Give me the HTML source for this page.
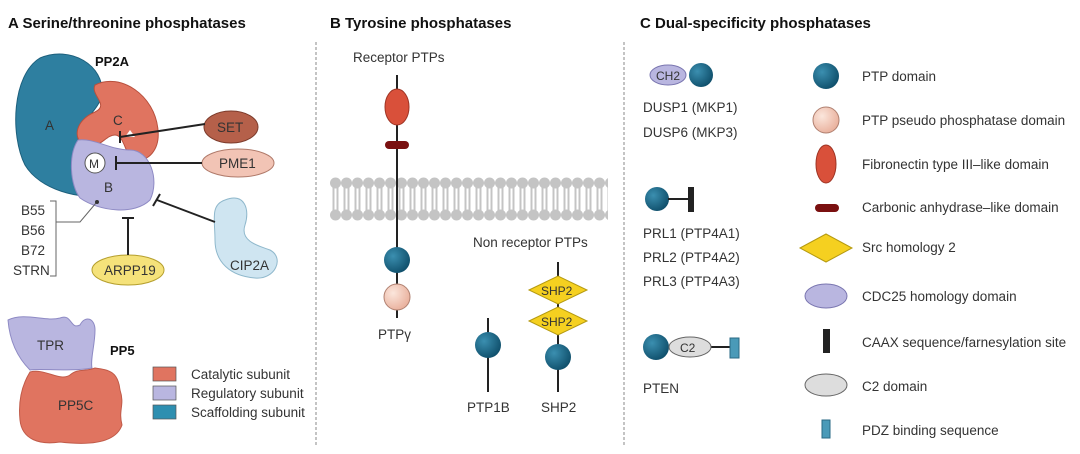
<!DOCTYPE html>
<html><head><meta charset="utf-8"><style>
html,body{margin:0;padding:0;background:#fff;width:1080px;height:454px;overflow:hidden}
svg text{font-family:"Liberation Sans",sans-serif;fill:#333}
.h{font-weight:bold;font-size:15px;fill:#111}
.t{font-size:13.5px}
</style></head><body>
<svg width="1080" height="454" viewBox="0 0 1080 454" xmlns="http://www.w3.org/2000/svg">
<defs>
<radialGradient id="teal" cx="35%" cy="35%" r="70%"><stop offset="0" stop-color="#3b8fb0"/><stop offset="1" stop-color="#0f4f6b"/></radialGradient>
<radialGradient id="pink" cx="35%" cy="35%" r="70%"><stop offset="0" stop-color="#fbe6dc"/><stop offset="1" stop-color="#e9b09c"/></radialGradient>
<pattern id="mem" x="330" y="176" width="11" height="46" patternUnits="userSpaceOnUse">
<circle cx="5.5" cy="7" r="5.5" fill="#c4c4c4"/><circle cx="5.5" cy="39" r="5.5" fill="#c4c4c4"/>
<rect x="2.5" y="10" width="2" height="26" fill="#c4c4c4"/><rect x="6.5" y="10" width="2" height="26" fill="#c4c4c4"/>
</pattern>
</defs>
<!-- headers -->
<text x="8" y="28" class="h">A  Serine/threonine phosphatases</text>
<text x="330" y="28" class="h">B  Tyrosine phosphatases</text>
<text x="640" y="28" class="h">C  Dual-specificity phosphatases</text>
<line x1="316" y1="42" x2="316" y2="445" stroke="#888" stroke-dasharray="3,2"/>
<line x1="624" y1="42" x2="624" y2="445" stroke="#888" stroke-dasharray="3,2"/>

<!-- Panel A PP2A -->
<text x="95" y="66" class="h" style="font-size:13px">PP2A</text>
<path d="M40,58 C70,45 105,65 102,95 C98,112 80,120 78,140 C76,160 85,185 105,195 C80,200 40,190 25,165 C10,135 12,75 40,58Z" fill="#2e7fa0" stroke="#1c5f7c"/>
<path d="M95,85 C120,72 155,95 158,130 C160,150 148,162 135,160 C125,158 125,135 115,135 C105,135 100,150 85,145 C72,140 75,120 95,112 C110,105 90,95 95,85Z" fill="#e07460" stroke="#b8503d"/>
<path d="M78,140 C95,138 110,150 130,150 C150,150 160,180 150,200 C135,215 100,212 80,198 C70,185 68,155 78,140Z" fill="#b9b6e0" stroke="#8e8ac4"/>
<path d="M125,137 L130,130 L135,137Z" fill="#fff"/>
<circle cx="95" cy="163" r="10" fill="#fff" stroke="#555"/>
<text x="89" y="168" class="t" style="font-size:12px">M</text>
<text x="45" y="130" class="t" fill="#14445a">A</text>
<text x="113" y="125" class="t">C</text>
<text x="104" y="192" class="t">B</text>
<ellipse cx="231" cy="127" rx="27" ry="16" fill="#b5604a" stroke="#7c3b2b"/>
<text x="217" y="132" class="t">SET</text>
<line x1="120" y1="137" x2="205" y2="124" stroke="#222" stroke-width="2"/><line x1="120" y1="131" x2="120" y2="143" stroke="#222" stroke-width="2"/>
<ellipse cx="238" cy="163" rx="36" ry="14" fill="#f2c4b5" stroke="#b07a6a"/>
<text x="219" y="168" class="t">PME1</text>
<line x1="117" y1="163" x2="202" y2="163" stroke="#222" stroke-width="2"/><line x1="116" y1="156" x2="116" y2="170" stroke="#222" stroke-width="2"/>
<path d="M225,200 C245,192 250,210 245,225 C240,240 255,245 270,250 C285,258 275,280 255,278 C230,276 215,262 215,240 C215,220 210,205 225,200Z" fill="#cfe5f1" stroke="#8fb8cc"/>
<text x="230" y="270" class="t">CIP2A</text>
<line x1="157" y1="200" x2="215" y2="222" stroke="#222" stroke-width="2"/><line x1="153" y1="206" x2="160" y2="194" stroke="#222" stroke-width="2"/>
<ellipse cx="128" cy="270" rx="36" ry="15" fill="#f5e27a" stroke="#b59f2e"/>
<text x="104" y="275" class="t">ARPP19</text>
<line x1="128" y1="218" x2="128" y2="255" stroke="#222" stroke-width="2"/><line x1="122" y1="218" x2="134" y2="218" stroke="#222" stroke-width="2"/>
<text x="21" y="215" class="t">B55</text><text x="21" y="235" class="t">B56</text><text x="21" y="255" class="t">B72</text><text x="13" y="275" class="t">STRN</text>
<path d="M50,201 H56 V276 H50" fill="none" stroke="#666"/>
<path d="M56,222 H80 L96,203" fill="none" stroke="#666"/><circle cx="97" cy="202" r="2" fill="#333"/>

<!-- PP5 -->
<path d="M8,320 C25,312 45,322 60,318 C72,313 70,330 80,325 C85,315 95,318 95,330 C95,345 90,360 92,368 C70,372 40,368 30,370 C20,360 10,345 8,320Z" fill="#b9b6e0" stroke="#8e8ac4"/>
<text x="37" y="350" class="t">TPR</text>
<text x="110" y="355" class="h" style="font-size:13px">PP5</text>
<path d="M30,372 C45,368 60,382 70,375 C78,368 85,372 95,368 C110,370 118,372 120,390 C125,405 118,410 122,425 C115,445 85,445 60,442 C40,445 22,440 20,420 C18,400 22,385 30,372Z" fill="#e07460" stroke="#c05a48"/>
<text x="58" y="410" class="t">PP5C</text>
<rect x="153" y="367" width="23" height="14" fill="#e07460" stroke="#555" stroke-width=".7"/>
<rect x="153" y="386" width="23" height="14" fill="#b9b6e0" stroke="#555" stroke-width=".7"/>
<rect x="153" y="405" width="23" height="14" fill="#2e8fb0" stroke="#555" stroke-width=".7"/>
<text x="191" y="379" class="t">Catalytic subunit</text>
<text x="191" y="398" class="t">Regulatory subunit</text>
<text x="191" y="417" class="t">Scaffolding subunit</text>

<!-- Panel B -->
<text x="353" y="62" class="t">Receptor PTPs</text>
<rect x="330" y="176" width="278" height="46" fill="url(#mem)"/>
<line x1="397" y1="75" x2="397" y2="318" stroke="#222" stroke-width="2"/>
<ellipse cx="397" cy="107" rx="12" ry="18" fill="#d9503a" stroke="#9e3424"/>
<rect x="385" y="141" width="24" height="8" rx="4" fill="#7a1010"/>
<circle cx="397" cy="260" r="13" fill="url(#teal)"/>
<circle cx="397" cy="297" r="13" fill="url(#pink)" stroke="#b08070"/>
<text x="378" y="339" class="t">PTPγ</text>
<text x="473" y="247" class="t">Non receptor PTPs</text>
<line x1="488" y1="318" x2="488" y2="392" stroke="#222" stroke-width="2"/>
<circle cx="488" cy="345" r="13" fill="url(#teal)"/>
<text x="467" y="412" class="t">PTP1B</text>
<line x1="558" y1="262" x2="558" y2="392" stroke="#222" stroke-width="2"/>
<path d="M529,290 L558,276 L587,290 L558,304Z" fill="#f5d020" stroke="#b59a10"/>
<path d="M529,321 L558,307 L587,321 L558,335Z" fill="#f5d020" stroke="#b59a10"/>
<text x="541" y="295" class="t" style="font-size:12px">SHP2</text>
<text x="541" y="326" class="t" style="font-size:12px">SHP2</text>
<circle cx="558" cy="357" r="13" fill="url(#teal)"/>
<text x="541" y="412" class="t">SHP2</text>

<!-- Panel C -->
<ellipse cx="668" cy="75" rx="18" ry="10" fill="#b9b6e0" stroke="#7a76b0"/>
<text x="656" y="80" class="t" style="font-size:12px">CH2</text>
<circle cx="701" cy="75" r="12" fill="url(#teal)"/>
<text x="643" y="112" class="t">DUSP1 (MKP1)</text>
<text x="643" y="137" class="t">DUSP6 (MKP3)</text>
<circle cx="657" cy="199" r="12" fill="url(#teal)"/>
<line x1="668" y1="199" x2="690" y2="199" stroke="#222" stroke-width="2"/>
<rect x="688" y="187" width="6" height="25" fill="#222"/>
<text x="643" y="238" class="t">PRL1 (PTP4A1)</text>
<text x="643" y="262" class="t">PRL2 (PTP4A2)</text>
<text x="643" y="286" class="t">PRL3 (PTP4A3)</text>
<line x1="710" y1="347" x2="732" y2="347" stroke="#222" stroke-width="2"/>
<circle cx="656" cy="347" r="13" fill="url(#teal)"/>
<ellipse cx="690" cy="347" rx="21" ry="10" fill="#ddd" stroke="#666"/>
<text x="680" y="352" class="t" style="font-size:12px">C2</text>
<rect x="730" y="338" width="9" height="20" fill="#4a9ab8" stroke="#2a6a84"/>
<text x="643" y="393" class="t">PTEN</text>

<!-- legend -->
<circle cx="826" cy="76" r="13" fill="url(#teal)"/><text x="862" y="81" class="t">PTP domain</text>
<circle cx="826" cy="120" r="13" fill="url(#pink)" stroke="#b08070"/><text x="862" y="125" class="t">PTP pseudo phosphatase domain</text>
<ellipse cx="826" cy="164" rx="10" ry="19" fill="#d9503a" stroke="#9e3424"/><text x="862" y="169" class="t">Fibronectin type III–like domain</text>
<rect x="815" y="204" width="24" height="8" rx="4" fill="#7a1010"/><text x="862" y="212" class="t">Carbonic anhydrase–like domain</text>
<path d="M800,248 L826,234 L852,248 L826,262Z" fill="#f5d020" stroke="#b59a10"/><text x="862" y="252" class="t">Src homology 2</text>
<ellipse cx="826" cy="296" rx="21" ry="12" fill="#b9b6e0" stroke="#7a76b0"/><text x="862" y="301" class="t">CDC25 homology domain</text>
<rect x="823" y="329" width="7" height="24" fill="#222"/><text x="862" y="347" class="t">CAAX sequence/farnesylation site</text>
<ellipse cx="826" cy="385" rx="21" ry="11" fill="#ddd" stroke="#666"/><text x="862" y="391" class="t">C2 domain</text>
<rect x="822" y="420" width="8" height="18" fill="#4a9ab8" stroke="#2a6a84"/><text x="862" y="435" class="t">PDZ binding sequence</text>
</svg>
</body></html>
